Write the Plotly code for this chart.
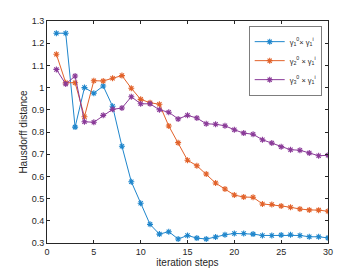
import plotly.graph_objects as go

steps = list(range(1, 31))
blue = [1.245, 1.245, 0.822, 1.0, 0.975, 1.007, 0.916, 0.736, 0.576, 0.479,
        0.384, 0.340, 0.351, 0.318, 0.334, 0.322, 0.318, 0.327, 0.337, 0.343,
        0.343, 0.340, 0.334, 0.334, 0.336, 0.337, 0.334, 0.328, 0.328, 0.323]
orange = [1.150, 1.022, 1.022, 0.869, 1.031, 1.030, 1.042, 1.054, 0.997, 0.947,
          0.932, 0.925, 0.827, 0.752, 0.673, 0.648, 0.611, 0.570, 0.543, 0.516,
          0.507, 0.506, 0.476, 0.473, 0.467, 0.461, 0.453, 0.449, 0.448, 0.443]
purple = [1.082, 1.016, 1.052, 0.846, 0.844, 0.875, 0.902, 0.908, 0.959, 0.927,
          0.927, 0.900, 0.889, 0.859, 0.875, 0.863, 0.837, 0.835, 0.828, 0.810,
          0.795, 0.790, 0.765, 0.750, 0.734, 0.720, 0.718, 0.705, 0.693, 0.695]
names = ["γ<sub>1</sub><sup>0</sup>× γ<sub>1</sub><sup>i</sup>",
         "γ<sub>2</sub><sup>0</sup> × γ<sub>1</sub><sup>i</sup>",
         "γ<sub>3</sub><sup>0</sup> × γ<sub>1</sub><sup>i</sup>"]
colors = ["#1f86cc", "#e2622a", "#8a3a98"]

x_ticks = [0, 5, 10, 15, 20, 25, 30]
y_ticks = [0.3, 0.4, 0.5, 0.6, 0.7, 0.8, 0.9, 1.0, 1.1, 1.2, 1.3]
y_ticktext = ["0.3", "0.4", "0.5", "0.6", "0.7", "0.8", "0.9", "1", "1.1", "1.2", "1.3"]

fig = go.Figure()
for ys, nm, c in zip([blue, orange, purple], names, colors):
    fig.add_trace(go.Scatter(
        x=steps, y=ys, name=nm, mode="lines+markers",
        line=dict(color=c, width=1),
        marker=dict(symbol="asterisk-open", size=5, color=c,
                    line=dict(color=c, width=1.1)),
    ))

axis_common = dict(showgrid=False, zeroline=False, showline=True, automargin=False,
                   linecolor="#262626", linewidth=0.8, mirror="ticks",
                   ticks="inside", ticklen=3, tickwidth=0.8, tickcolor="#262626",
                   tickfont=dict(family="Liberation Sans, Arial", size=9, color="#262626"))

fig.update_layout(
    width=354, height=265,
    margin=dict(l=39, r=34, t=13, b=30),
    paper_bgcolor="white", plot_bgcolor="white",
    font=dict(family="Liberation Sans, Arial", size=9, color="#262626"),
    xaxis=dict(range=[0, 30], tickvals=x_ticks,
               title=dict(text="iteration steps", font=dict(size=10), standoff=1),
               **axis_common),
    yaxis=dict(range=[0.3, 1.3], tickvals=y_ticks, ticktext=y_ticktext,
               title=dict(text="Hausdorff distance", font=dict(size=10), standoff=2),
               **axis_common),
    legend=dict(x=0.979, y=0.975, xanchor="right", yanchor="top",
                bgcolor="white", bordercolor="#262626", borderwidth=0.6,
                font=dict(size=7.5), tracegroupgap=0, itemwidth=30),
    showlegend=True,
)

fig.write_html("out.html")
